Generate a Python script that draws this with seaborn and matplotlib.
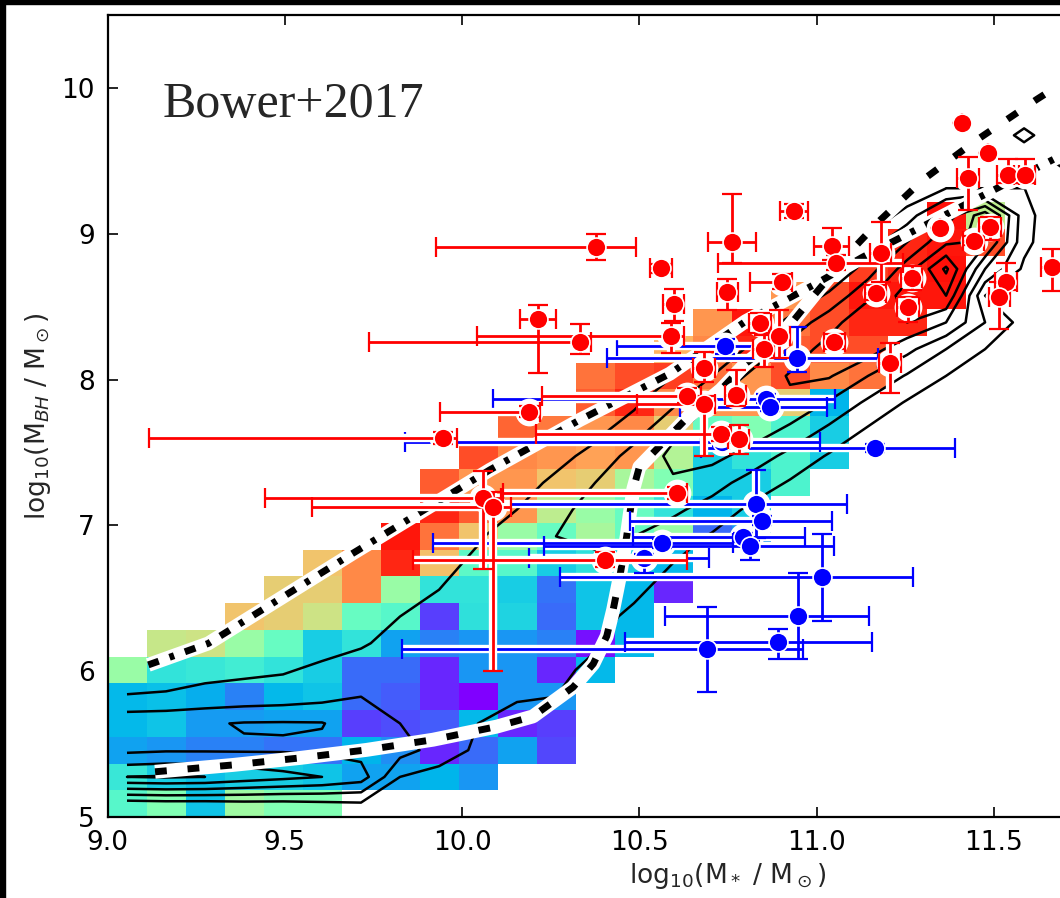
import numpy as np
import pandas as pd
import matplotlib
matplotlib.use("Agg")
import matplotlib.pyplot as plt
from matplotlib.patches import Rectangle
import seaborn as sns

# ---------------------------------------------------------------- grid
x_start, x_step = 9.0, 0.11          # log10 M_* bins
y_start, y_step = 5.0, 5.5 / 30      # log10 M_BH bins

# median colour-coded property per (M_BH, M_*) bin; (first column, values) per row
heat_rows = [
    (0,  [.42, .50, .28, .56, .50, .50]),
    (0,  [.36, .30, .27, .30, .30, .28, .22, .22, .25, .20]),
    (0,  [.22, .20, .17, .17, .15, .15, .25, .19, .05, .14, .22, .09]),
    (0,  [.26, .28, .21, .21, .22, .22, .08, .10, .12, .26, .05, .08]),
    (0,  [.26, .27, .24, .17, .26, .28, .14, .12, .05, .00, .20, .20]),
    (0,  [.55, .35, .36, .38, .35, .30, .14, .14, .05, .20, .20, .05, .26]),
    (1,  [.64, .65, .55, .45, .30, .35, .22, .17, .20, .20, .17, .02, .26]),
    (3,  [.72, .70, .65, .45, .42, .08, .34, .31, .14, .28, .26]),
    (4,  [.70, .70, .82, .55, .35, .35, .30, .15, .28, .26, .05]),
    (5,  [.72, .82, .95, .73, .43, .42, .30, .34, .30, .26]),
    (7,  [.97, .85, .72, .55, .45, .58, .45, .55, .14, .20]),
    (8,  [.95, .88, .80, .62, .55, .45, .35, .25, .30]),
    (8,  [.88, .80, .80, .72, .70, .58, .50, .30, .30, .40]),
    (9,  [.90, .82, .80, .78, .80, .60, .30, .35, .40, .30]),
    (10, [.87, .84, .80, .82, .70, .45, .50, .40, .30]),
    (12, [.88, .95, .82, .80, .80, .70, .25]),
    (12, [.85, .90, .92, .85, .80, .90, .82, .85]),
    (14, [.75, .82, .95, .88, .90, .90]),
    (15, [.80, .97, .85, .90, .95, .95]),
    (17, [.80, .90, .97, .97, .97]),
    (19, [.92, .95, .98]),
    (20, [.95, .97, .90]),
    (21, [.98, .62]),
]

# galaxy number density per bin (contour units); (first column, values) per row
density_rows = [
    (0,  [0.5, 0.6, 0.6, 0.7, 0.7, 0.8, 0.9, 0.6, 0.3, 0.1]),
    (0,  [5.0, 5.1, 5.0, 4.6, 4.3, 4.0, 3.5, 1.0, 0.6, 0.4, 0.2]),
    (0,  [2.78, 2.9, 2.9, 2.9, 2.9, 2.8, 2.6, 2.4, 1.6, 0.8, 0.4, 0.2]),
    (0,  [2.72, 2.8, 2.9, 3.06, 3.08, 3.05, 2.4, 2.0, 1.7, 1.0, 0.6, 0.4, 0.1]),
    (0,  [1.05, 1.1, 1.3, 1.4, 1.5, 1.7, 2.0, 1.9, 1.6, 1.3, 1.1, 1.0, 0.4]),
    (0,  [0.5, 0.6, 0.7, 0.8, 0.9, 1.2, 1.4, 1.5, 1.4, 1.3, 1.3, 1.2, 0.8, 0.3]),
    (0,  [0.0, 0.2, 0.3, 0.3, 0.4, 0.6, 0.9, 1.3, 1.4, 1.4, 1.4, 1.3, 1.1, 0.5]),
    (5,  [0.3, 0.5, 1.0, 1.4, 1.5, 1.5, 1.4, 1.3, 0.8, 0.3]),
    (6,  [0.2, 0.6, 1.0, 1.5, 1.6, 1.6, 1.5, 1.2, 0.6]),
    (7,  [0.3, 0.7, 1.2, 1.7, 1.8, 1.8, 1.5, 1.0, 0.4]),
    (8,  [0.4, 0.9, 1.5, 2.0, 2.2, 2.0, 1.5, 0.9, 0.3]),
    (9,  [0.5, 1.0, 1.7, 2.4, 2.6, 2.2, 1.6, 0.8, 0.3]),
    (10, [0.6, 1.2, 2.0, 2.8, 2.9, 2.4, 1.6, 0.9, 0.3]),
    (11, [0.7, 1.3, 2.4, 3.2, 3.3, 2.6, 1.7, 0.9, 0.3]),
    (12, [0.7, 1.5, 2.8, 3.6, 3.6, 2.8, 1.8, 0.9, 0.4]),
    (13, [0.8, 1.8, 3.0, 3.9, 3.8, 2.9, 1.8, 0.9, 0.3]),
    (14, [1.0, 2.0, 3.2, 4.1, 4.1, 3.0, 1.9, 1.0, 0.4]),
    (15, [1.1, 2.2, 3.4, 4.4, 4.5, 3.3, 2.0, 1.0, 0.3]),
    (16, [1.1, 2.3, 3.6, 4.8, 5.0, 4.0, 2.0, 0.6]),
    (17, [1.0, 2.2, 3.8, 5.5, 6.0, 1.0, 0.3]),
    (18, [0.9, 2.5, 4.5, 7.2, 3.0, 0.8]),
    (19, [1.4, 3.0, 4.8, 5.2, 1.3]),
    (20, [1.5, 3.5, 5.6, 1.4]),
    (21, [1.02, 1.02, 1.02]),
    (24, [1.3]),
    (23, [1.35]),
    (0,  [0.0]),
]
density_levels = [1, 2, 3, 4, 5, 6, 7]

# binned relations: upper envelope (dash-dot) and median track (dashed)
upper_x = [9.115, 9.284, 9.693, 9.777, 10.078, 10.332, 10.586, 10.80, 11.00, 11.13, 11.66, 11.90]
upper_y = [6.043, 6.19, 6.81, 6.934, 7.38, 7.723, 8.04, 8.40, 8.66, 8.84, 9.50, 9.80]
median_x = [9.134, 9.354, 9.543, 9.73, 9.918, 10.098, 10.2, 10.313, 10.37, 10.408, 10.426,
            10.445, 10.464, 10.483, 10.50, 10.58, 10.64, 10.73, 10.80, 10.90, 10.99, 11.10,
            11.18, 11.30, 11.45, 11.62, 11.80]
median_y = [5.31, 5.357, 5.405, 5.46, 5.53, 5.62, 5.69, 5.89, 6.05, 6.24, 6.42,
            6.65, 6.92, 7.25, 7.40, 7.60, 7.75, 7.93, 8.11, 8.30, 8.57, 8.89,
            9.095, 9.37, 9.64, 9.92, 10.20]

# observed black holes: x, y, x_err_lo, x_err_hi, y_err_lo, y_err_hi
red_obs = [
    (10.378, 8.910, 0.452, 0.113, 0.09, 0.09),
    (10.561, 8.763, 0.03, 0.03, 0.03, 0.03),
    (10.760, 8.942, 0.066, 0.07, 0.145, 0.33),
    (10.937, 9.156, 0.04, 0.04, 0.05, 0.05),
    (11.042, 8.918, 0.05, 0.05, 0.10, 0.12),
    (11.056, 8.802, 0.334, 0.188, 0.05, 0.05),
    (11.409, 9.762, 0.0, 0.0, 0.0, 0.0),
    (11.484, 9.556, 0.0, 0.0, 0.0, 0.0),
    (11.427, 9.380, 0.03, 0.03, 0.22, 0.147),
    (11.540, 9.400, 0.03, 0.03, 0.05, 0.11),
    (11.587, 9.400, 0.03, 0.03, 0.05, 0.11),
    (11.348, 9.042, 0.0, 0.0, 0.0, 0.0),
    (11.443, 8.953, 0.03, 0.03, 0.03, 0.03),
    (11.489, 9.049, 0.03, 0.03, 0.09, 0.068),
    (11.663, 8.774, 0.03, 0.03, 0.17, 0.12),
    (11.534, 8.671, 0.03, 0.03, 0.056, 0.127),
    (11.515, 8.569, 0.03, 0.03, 0.22, 0.10),
    (11.258, 8.496, 0.03, 0.03, 0.10, 0.07),
    (11.167, 8.596, 0.03, 0.03, 0.05, 0.05),
    (11.181, 8.868, 0.03, 0.03, 0.20, 0.213),
    (11.268, 8.697, 0.03, 0.03, 0.08, 0.08),
    (11.207, 8.112, 0.03, 0.03, 0.206, 0.137),
    (11.050, 8.260, 0.03, 0.03, 0.05, 0.05),
    (10.901, 8.671, 0.09, 0.03, 0.05, 0.05),
    (10.748, 8.600, 0.03, 0.03, 0.12, 0.09),
    (10.597, 8.520, 0.03, 0.03, 0.12, 0.10),
    (10.588, 8.300, 0.545, 0.038, 0.12, 0.09),
    (10.215, 8.413, 0.052, 0.05, 0.37, 0.10),
    (10.332, 8.260, 0.595, 0.033, 0.085, 0.12),
    (10.840, 8.386, 0.03, 0.03, 0.07, 0.07),
    (10.895, 8.299, 0.03, 0.03, 0.15, 0.18),
    (10.851, 8.208, 0.03, 0.03, 0.124, 0.10),
    (10.682, 8.080, 0.03, 0.03, 0.10, 0.11),
    (10.635, 7.890, 0.41, 0.04, 0.05, 0.05),
    (10.682, 7.835, 0.19, 0.03, 0.36, 0.05),
    (10.772, 7.897, 0.03, 0.03, 0.08, 0.17),
    (10.729, 7.626, 0.52, 0.03, 0.05, 0.05),
    (10.780, 7.590, 0.03, 0.03, 0.10, 0.10),
    (10.190, 7.780, 0.253, 0.03, 0.04, 0.04),
    (9.947, 7.600, 0.83, 0.04, 0.04, 0.04),
    (10.605, 7.224, 0.49, 0.03, 0.04, 0.04),
    (10.060, 7.186, 0.616, 0.05, 0.487, 0.19),
    (10.088, 7.128, 0.51, 0.05, 1.13, 0.10),
    (10.403, 6.765, 0.54, 0.23, 0.05, 0.05),
]
blue_obs = [
    (10.741, 8.227, 0.305, 0.17, 0.05, 0.05),
    (10.944, 8.150, 0.536, 0.23, 0.10, 0.21),
    (10.857, 7.868, 0.77, 0.195, 0.03, 0.03),
    (10.868, 7.814, 0.254, 0.16, 0.03, 0.03),
    (11.164, 7.530, 0.49, 0.226, 0.03, 0.03),
    (10.829, 7.145, 0.713, 0.258, 0.23, 0.234),
    (10.845, 7.032, 0.37, 0.197, 0.03, 0.03),
    (10.791, 6.918, 0.308, 0.176, 0.03, 0.03),
    (10.812, 6.861, 0.58, 0.237, 0.10, 0.03),
    (10.563, 6.877, 0.644, 0.20, 0.03, 0.03),
    (10.514, 6.775, 0.324, 0.183, 0.10, 0.03),
    (11.014, 6.644, 0.738, 0.258, 0.297, 0.295),
    (10.948, 6.379, 0.376, 0.20, 0.298, 0.297),
    (10.890, 6.202, 0.43, 0.265, 0.12, 0.09),
    (10.691, 6.150, 0.86, 0.27, 0.29, 0.29),
    (10.732, 7.574, 0.894, 0.277, 0.03, 0.03),
]


def to_grid(rows, ncol, fill):
    grid = np.full((len(rows), ncol), fill, dtype=float)
    for j, (start, vals) in enumerate(rows):
        grid[j, start:start + len(vals)] = vals
    return grid


heat = np.ma.masked_invalid(to_grid(heat_rows, 24, np.nan))
density = to_grid(density_rows, 25, 0.0)

x_edges = x_start + x_step * np.arange(heat.shape[1] + 1)
y_edges = y_start + y_step * np.arange(heat.shape[0] + 1)
x_mid = x_start + x_step * (np.arange(density.shape[1]) + 0.5)
y_mid = y_start + y_step * (np.arange(density.shape[0]) + 0.5)

# ---------------------------------------------------------------- style
sns.set_theme(style="ticks", rc={
    "xtick.direction": "in", "ytick.direction": "in",
    "xtick.top": True, "ytick.right": True,
    "xtick.major.size": 7, "ytick.major.size": 7,
    "xtick.major.width": 1.2, "ytick.major.width": 1.2,
    "axes.linewidth": 1.6, "axes.edgecolor": "black",
    "xtick.color": "black", "ytick.color": "black",
})
plt.rcParams["font.family"] = ["DejaVu Sans"]
plt.rcParams["mathtext.fontset"] = "dejavusans"

fig = plt.figure(figsize=(10.6, 8.98), dpi=100)
fig.patch.set_facecolor("white")
ax = fig.add_axes([107.5 / 1060, 81 / 898, 1241 / 1060, 802 / 898])

# frame strips of the page
fig.add_artist(Rectangle((0, 0), 5 / 1060, 1, transform=fig.transFigure,
                         color="black", zorder=50))
fig.add_artist(Rectangle((0, 1 - 4 / 898), 1, 4 / 898, transform=fig.transFigure,
                         color="black", zorder=50))

ax.pcolormesh(x_edges, y_edges, heat, cmap="rainbow", vmin=0, vmax=1, zorder=1)
ax.contour(x_mid, y_mid, density, levels=density_levels, colors="black",
           linewidths=1.8, zorder=2)

# thick relations on a white casing
for xs, ys, dashes in [(upper_x, upper_y, (1.6, 1.65, 0.7, 1.65)),
                       (median_x, median_y, (1.7, 3.0))]:
    ax.plot(xs, ys, color="white", lw=10, solid_capstyle="butt", zorder=3)
    ln, = ax.plot(xs, ys, color="black", lw=5, dash_capstyle="butt", zorder=4)
    ln.set_dashes(dashes)


def draw_sample(rows, colour, z):
    df = pd.DataFrame(rows, columns=["x", "y", "xlo", "xhi", "ylo", "yhi"])
    xerr = [df["xlo"], df["xhi"]]
    yerr = [df["ylo"], df["yhi"]]
    ax.errorbar(df["x"], df["y"], xerr=xerr, yerr=yerr, fmt="o", color="white",
                ms=20, mew=0, elinewidth=6, capsize=8, capthick=5, zorder=z)
    ax.errorbar(df["x"], df["y"], xerr=xerr, yerr=yerr, fmt="none", ecolor=colour,
                elinewidth=2, capsize=7, capthick=1.6, zorder=z + 1)
    sns.scatterplot(data=df, x="x", y="y", color=colour, s=185, edgecolor="white",
                    linewidth=1.2, zorder=z + 2, ax=ax, legend=False)


draw_sample(blue_obs, "#0000ff", 5)
draw_sample(red_obs, "#ff0000", 8)

ax.set_xlim(9.0, 12.5)
ax.set_ylim(5.0, 10.5)
ax.set_xticks([9.0, 9.5, 10.0, 10.5, 11.0, 11.5])
ax.set_xticklabels(["9.0", "9.5", "10.0", "10.5", "11.0", "11.5"])
ax.set_yticks([5, 6, 7, 8, 9, 10])
ax.tick_params(labelsize=19, pad=9)
ax.set_xlabel(r"log$_{10}$(M$_*$ / M$_\odot$)", fontsize=19, labelpad=4)
ax.set_ylabel(r"log$_{10}$(M$_{BH}$ / M$_\odot$)", fontsize=19, labelpad=6)

ax.text(0.0445, 0.873, "Bower+2017", transform=ax.transAxes, fontsize=36,
        family="Liberation Serif", va="baseline", ha="left", zorder=20)

fig.savefig("out.png", dpi=100, facecolor=fig.get_facecolor())
